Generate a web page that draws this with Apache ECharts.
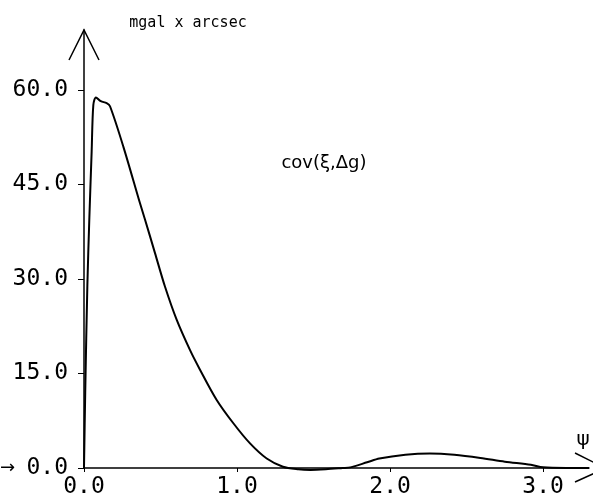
<!DOCTYPE html>
<html>
<head>
<meta charset="utf-8">
<script src="https://cdn.jsdelivr.net/npm/echarts@6/dist/echarts.min.js"></script>
<style>
  html, body { margin: 0; padding: 0; background: #fff; }
  #chart { width: 593px; height: 501px; }
</style>
</head>
<body>
<div id="chart"></div>
<script>
// angular distance psi (deg) and covariance values
const psi = [0, 0.008, 0.022, 0.035, 0.05, 0.061, 0.078, 0.11, 0.148, 0.17, 0.257, 0.366, 0.399, 0.464, 0.529, 0.606, 0.693, 0.758, 0.867, 0.976, 1.085, 1.194, 1.3, 1.4, 1.48, 1.58, 1.69, 1.74, 1.85, 1.93, 2.1, 2.26, 2.42, 2.59, 2.75, 2.92, 3.0, 3.15, 3.3];
const cov = [0, 12, 29, 39.7, 50.2, 57.6, 58.8, 58.2, 57.9, 57.4, 51.0, 42.0, 39.4, 34.1, 28.8, 23.5, 18.7, 15.6, 10.8, 7.1, 3.9, 1.5, 0.2, -0.2, -0.3, -0.2, 0, 0.1, 0.9, 1.5, 2.1, 2.3, 2.1, 1.6, 1.0, 0.5, 0.1, 0, 0];

const yTicks = [0, 15, 30, 45, 60];
const xTicks = [0, 1, 2, 3];

const yTitle = 'mgal x arcsec';
const curveLabel = 'cov(ξ,Δg)';

const font = '"DejaVu Sans Mono", monospace';

let myChart = echarts.init(document.getElementById('chart'));

let points = psi.map(function(p, i) { return [p, cov[i]]; });

let option = {
	animation: false,
	backgroundColor: '#fff',
	grid: { left: 84, right: 4, top: 30, bottom: 33 },
	xAxis: {
		type: 'value',
		min: 0,
		max: 3.3,
		axisLine: { show: true, onZero: false, lineStyle: { color: '#000', width: 1.5 } },
		axisTick: { show: true, length: 4, customValues: xTicks, lineStyle: { color: '#000' } },
		axisLabel: {
			customValues: xTicks,
			formatter: function(v) { return v.toFixed(1); },
			color: '#000',
			fontFamily: font,
			fontSize: 23,
			margin: 8
		},
		splitLine: { show: false }
	},
	yAxis: {
		type: 'value',
		min: 0,
		max: 69.5,
		axisLine: { show: true, onZero: false, lineStyle: { color: '#000', width: 1.5 } },
		axisTick: { show: true, length: 6, customValues: yTicks, lineStyle: { color: '#000' } },
		axisLabel: {
			customValues: yTicks,
			formatter: function(v) { return v.toFixed(1); },
			color: '#000',
			fontFamily: font,
			fontSize: 23,
			margin: 16
		},
		splitLine: { show: false }
	},
	series: [
		{
			type: 'line',
			data: points,
			showSymbol: false,
			clip: false,
			smooth: 0.3,
			lineStyle: { color: '#000', width: 2 }
		}
	]
};

myChart.setOption(option);

// decorations placed relative to the axes
let origin = myChart.convertToPixel({ gridIndex: 0 }, [0, 0]);
let yEnd = myChart.convertToPixel({ gridIndex: 0 }, [0, 69.5]);
let xEnd = myChart.convertToPixel({ gridIndex: 0 }, [3.3, 0]);

myChart.setOption({
	graphic: [
		{
			type: 'polyline',
			shape: { points: [[yEnd[0] - 15, yEnd[1] + 30], [yEnd[0], yEnd[1]], [yEnd[0] + 15, yEnd[1] + 30]] },
			style: { stroke: '#000', lineWidth: 1.5, fill: null }
		},
		{
			type: 'line',
			shape: { x1: xEnd[0] - 14, y1: xEnd[1] - 15, x2: xEnd[0] + 6, y2: xEnd[1] - 5 },
			style: { stroke: '#000', lineWidth: 1.5 }
		},
		{
			type: 'line',
			shape: { x1: xEnd[0] - 14, y1: xEnd[1] + 14, x2: xEnd[0] + 6, y2: xEnd[1] + 5 },
			style: { stroke: '#000', lineWidth: 1.5 }
		},
		{
			type: 'text',
			x: xEnd[0] - 6, y: xEnd[1] - 28,
			style: { text: 'ψ', fontFamily: '"DejaVu Sans"', fontSize: 20, fill: '#000', align: 'center', verticalAlign: 'middle' }
		},
		{
			type: 'text',
			x: 0, y: origin[1],
			style: { text: '→', fontFamily: '"DejaVu Sans"', fontSize: 18, fill: '#000', align: 'left', verticalAlign: 'middle' }
		},
		{
			type: 'text',
			x: 188, y: 23,
			style: { text: yTitle, fontFamily: font, fontSize: 15, fill: '#000', align: 'center', verticalAlign: 'middle' }
		},
		{
			type: 'text',
			x: 324, y: 163,
			style: { text: curveLabel, fontFamily: '"DejaVu Sans"', fontSize: 18, fill: '#000', align: 'center', verticalAlign: 'middle' }
		}
	]
});
</script>
</body>
</html>
